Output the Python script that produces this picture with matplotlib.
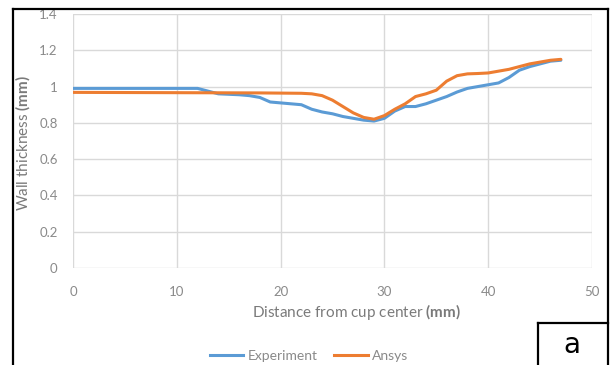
import matplotlib
matplotlib.use("Agg")
import matplotlib.pyplot as plt
from matplotlib.lines import Line2D

# ---- data ----
exp_x = [0, 12, 13, 14, 16, 17, 18, 19, 20, 21, 22, 23, 24, 25, 26, 27, 28, 29, 30,
         31, 32, 33, 34, 35, 36, 37, 38, 39, 40, 41, 42, 43, 44, 45, 46, 47]
exp_y = [0.99, 0.99, 0.975, 0.96, 0.955, 0.95, 0.94, 0.915, 0.91, 0.905, 0.90, 0.875,
         0.86, 0.85, 0.835, 0.825, 0.815, 0.81, 0.825, 0.865, 0.89, 0.89, 0.905, 0.925,
         0.945, 0.97, 0.99, 1.0, 1.01, 1.02, 1.05, 1.09, 1.11, 1.125, 1.14, 1.145]
ans_x = [0, 18, 22, 23, 24, 25, 26, 27, 28, 29, 30, 31, 32, 33, 34, 35, 36, 37, 38,
         39, 40, 41, 42, 43, 44, 45, 46, 47]
ans_y = [0.968, 0.965, 0.963, 0.96, 0.95, 0.925, 0.89, 0.855, 0.83, 0.82, 0.84, 0.875,
         0.905, 0.945, 0.96, 0.98, 1.03, 1.06, 1.07, 1.072, 1.075, 1.085, 1.095, 1.11,
         1.125, 1.135, 1.145, 1.15]
x_ticks = [0, 10, 20, 30, 40, 50]
y_ticks = [0, 0.2, 0.4, 0.6, 0.8, 1.0, 1.2, 1.4]
y_tick_labels = ["0", "0.2", "0.4", "0.6", "0.8", "1", "1.2", "1.4"]
series_names = ["Experiment", "Ansys"]

plt.rcParams['font.family'] = ['Lato', 'DejaVu Sans']
plt.rcParams['mathtext.fontset'] = 'custom'
plt.rcParams['mathtext.rm'] = 'Lato'
plt.rcParams['mathtext.bf'] = 'Lato:bold'

W, H = 611, 365
fig = plt.figure(figsize=(W / 100, H / 100), dpi=100)
fig.patch.set_facecolor('white')

def fx(px):
    return px / W

def fy(py):
    return 1 - py / H

ax = fig.add_axes([fx(73), fy(268), fx(592) - fx(73), fy(14) - fy(268)])
blue = '#5B9BD5'
orange = '#ED7D31'
ax.plot(exp_x, exp_y, color=blue, lw=2.2, solid_capstyle='round', zorder=3)
ax.plot(ans_x, ans_y, color=orange, lw=2.2, solid_capstyle='round', zorder=4)

ax.set_xlim(0, 50)
ax.set_ylim(0, 1.4)
ax.set_xticks(x_ticks)
ax.set_yticks(y_ticks)
ax.set_yticklabels(y_tick_labels)
ax.grid(True, color='#D9D9D9', lw=1.0)
ax.set_axisbelow(True)
for s in ax.spines.values():
    s.set_visible(False)
ax.tick_params(length=0, labelsize=9.5, colors='#8a8a8a')
ax.tick_params(axis='x', pad=13)
ax.tick_params(axis='y', pad=11)

fig.text(fx(357), fy(312), r"Distance from cup center $\mathbf{(mm)}$",
         ha='center', va='center', fontsize=11, color='#7a7a7a')
fig.text(fx(23), fy(143), r"Wall thickness $\mathbf{(mm)}$",
         ha='center', va='center', fontsize=11, color='#7a7a7a', rotation=90)

handles = [Line2D([], [], color=blue, lw=2.2), Line2D([], [], color=orange, lw=2.2)]
fig.legend(handles, series_names, loc='center', bbox_to_anchor=(fx(309), fy(356)),
           ncol=2, frameon=False, fontsize=10, handlelength=2.4, handletextpad=0.3,
           columnspacing=1.2, labelcolor='#8a8a8a')

# outer black frame
frame_kw = dict(color='black', lw=1.6, transform=fig.transFigure)
fig.add_artist(Line2D([fx(13), fx(13)], [fy(9), fy(366)], **frame_kw))
fig.add_artist(Line2D([fx(13), fx(608)], [fy(9), fy(9)], **frame_kw))
fig.add_artist(Line2D([fx(608), fx(608)], [fy(9), fy(366)], **frame_kw))
# label box
fig.add_artist(Line2D([fx(538), fx(608)], [fy(323), fy(323)], **frame_kw))
fig.add_artist(Line2D([fx(538), fx(538)], [fy(323), fy(366)], **frame_kw))
fig.text(fx(572), fy(345), "a", ha='center', va='center', fontsize=20,
         family=['DejaVu Sans'], color='black')

fig.savefig('out.png', dpi=100)
